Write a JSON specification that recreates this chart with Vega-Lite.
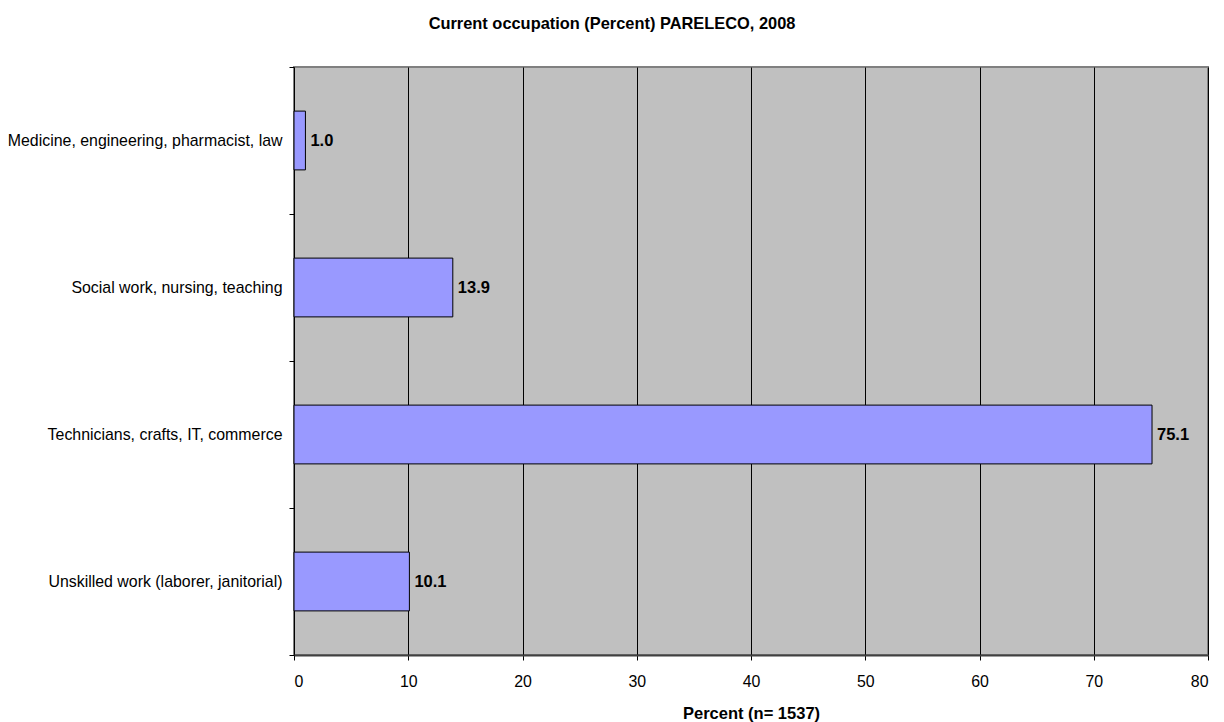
{
  "$schema": "https://vega.github.io/schema/vega-lite/v6.json",
  "width": 914,
  "height": 588,
  "autosize": {"type": "none"},
  "padding": {"left": 294, "top": 67, "right": 16, "bottom": 67},
  "background": "white",
  "title": {
    "text": "Current occupation (Percent) PARELECO, 2008",
    "font": "Liberation Sans",
    "fontSize": 16.4,
    "fontWeight": "bold",
    "color": "black",
    "anchor": "middle",
    "dx": -139,
    "offset": 27
  },
  "config": {
    "view": {"fill": "#C0C0C0", "stroke": "#808080", "strokeWidth": 2},
    "axis": {"labelFont": "Liberation Sans", "titleFont": "Liberation Sans", "labelColor": "black", "titleColor": "black"}
  },
  "data": {
    "values": [
      {"category": "Medicine, engineering, pharmacist, law", "percent": 1.0},
      {"category": "Social work, nursing, teaching", "percent": 13.9},
      {"category": "Technicians, crafts, IT, commerce", "percent": 75.1},
      {"category": "Unskilled work (laborer, janitorial)", "percent": 10.1}
    ]
  },
  "encoding": {
    "y": {
      "field": "category",
      "type": "nominal",
      "sort": null,
      "scale": {"paddingInner": 0, "paddingOuter": 0},
      "axis": {
        "title": null,
        "tickBand": "extent",
        "tickSize": 5,
        "tickColor": "black",
        "domain": false,
        "grid": false,
        "labelFontSize": 15.9,
        "labelPadding": 7,
        "labelLimit": 400
      }
    },
    "x": {
      "field": "percent",
      "type": "quantitative",
      "scale": {"domain": [0, 80], "nice": false},
      "axis": {
        "title": "Percent (n= 1537)",
        "titleFontSize": 16.5,
        "titleFontWeight": "bold",
        "titlePadding": 17,
        "values": [0, 10, 20, 30, 40, 50, 60, 70, 80],
        "grid": true,
        "gridColor": "black",
        "gridOpacity": 1,
        "gridWidth": 1,
        "domainColor": "#404040",
        "domainWidth": 2,
        "tickColor": "black",
        "tickSize": 5,
        "labelFontSize": 15.9,
        "labelPadding": 13
      }
    }
  },
  "layer": [
    {
      "mark": {"type": "bar", "fill": "#9999FF", "stroke": "black", "strokeWidth": 1, "height": {"band": 0.4}}
    },
    {
      "mark": {"type": "text", "align": "left", "baseline": "middle", "dx": 5, "font": "Liberation Sans", "fontSize": 16.5, "fontWeight": "bold", "color": "black"},
      "encoding": {"text": {"field": "percent", "type": "quantitative", "format": ".1f"}}
    }
  ]
}
